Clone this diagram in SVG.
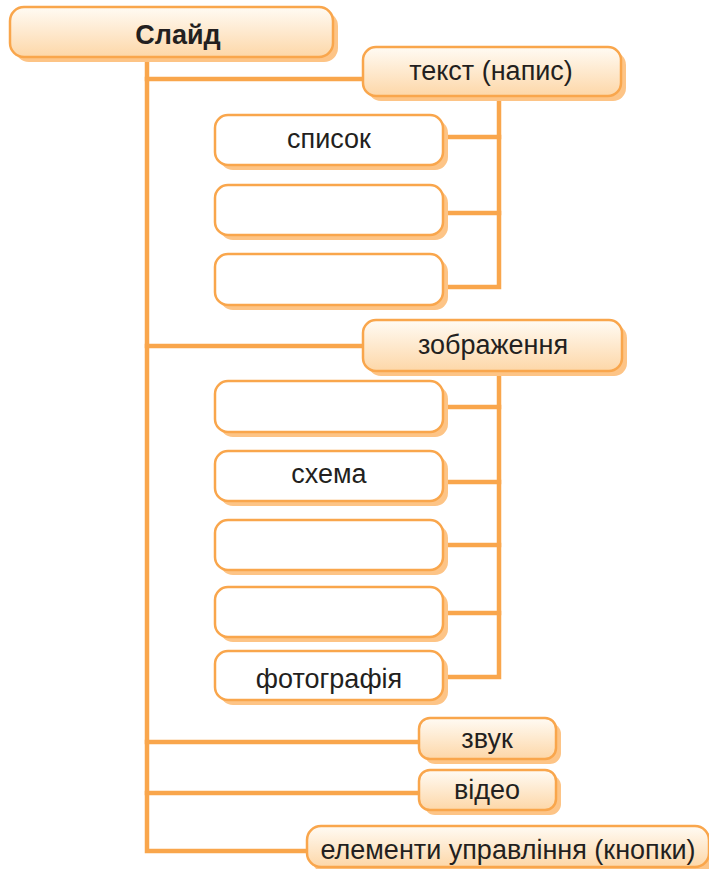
<svg xmlns="http://www.w3.org/2000/svg" width="709" height="869" viewBox="0 0 709 869">
<defs>
<linearGradient id="peach" x1="0" y1="0" x2="0" y2="1">
<stop offset="0" stop-color="#FFFBF4"/>
<stop offset="1" stop-color="#FDD7A8"/>
</linearGradient>
<style>
.sh{fill:#FDC486;stroke:none}
.pb{fill:url(#peach);stroke:#F9A64C;stroke-width:2.5}
.wb{fill:#FFFFFF;stroke:#F9A64C;stroke-width:2.5}
.ln{stroke:#F9A64C;stroke-width:4.5;fill:none;stroke-linecap:square}
text{font-family:"Liberation Sans",Arial,sans-serif;fill:#231F20;text-anchor:middle}
.t{font-size:27px}
.b{font-size:27px;font-weight:bold}
</style>
</defs>
<g id="connectors">
<path class="ln" d="M147,59 V851 H307"/>
<path class="ln" d="M147,79 H363"/>
<path class="ln" d="M147,346 H363"/>
<path class="ln" d="M147,742 H419"/>
<path class="ln" d="M147,793 H419"/>
<path class="ln" d="M499,98 V287 H448"/>
<path class="ln" d="M499,137 H448"/>
<path class="ln" d="M499,213 H448"/>
<path class="ln" d="M499,373 V677 H448"/>
<path class="ln" d="M499,407 H448"/>
<path class="ln" d="M499,482 H448"/>
<path class="ln" d="M499,545 H448"/>
<path class="ln" d="M499,613 H448"/>
</g>
<g id="slide">
<rect class="sh" x="15" y="12" width="323" height="50" rx="14"/>
<rect class="pb" x="10" y="7" width="323" height="50" rx="14"/>
<text class="b" x="178" y="44">Слайд</text>
</g>
<g id="text">
<rect class="sh" x="368" y="52" width="258" height="49" rx="13"/>
<rect class="pb" x="363" y="47" width="258" height="49" rx="13"/>
<text class="t" x="491" y="80">текст (напис)</text>
</g>
<g id="list">
<rect class="sh" x="220" y="120" width="228" height="50" rx="13"/>
<rect class="wb" x="215" y="115" width="228" height="50" rx="13"/>
<text class="t" x="329" y="148">список</text>
</g>
<g id="text2">
<rect class="sh" x="220" y="190" width="228" height="50" rx="13"/>
<rect class="wb" x="215" y="185" width="228" height="50" rx="13"/>
</g>
<g id="text3">
<rect class="sh" x="220" y="259" width="228" height="51" rx="13"/>
<rect class="wb" x="215" y="254" width="228" height="51" rx="13"/>
</g>
<g id="image">
<rect class="sh" x="368" y="325" width="259" height="51" rx="13"/>
<rect class="pb" x="363" y="320" width="259" height="51" rx="13"/>
<text class="t" x="493" y="354">зображення</text>
</g>
<g id="img1">
<rect class="sh" x="220" y="386" width="228" height="51" rx="13"/>
<rect class="wb" x="215" y="381" width="228" height="51" rx="13"/>
</g>
<g id="scheme">
<rect class="sh" x="220" y="456" width="228" height="50" rx="13"/>
<rect class="wb" x="215" y="451" width="228" height="50" rx="13"/>
<text class="t" x="329" y="483">схема</text>
</g>
<g id="img3">
<rect class="sh" x="220" y="525" width="228" height="50" rx="13"/>
<rect class="wb" x="215" y="520" width="228" height="50" rx="13"/>
</g>
<g id="img4">
<rect class="sh" x="220" y="592" width="228" height="50" rx="13"/>
<rect class="wb" x="215" y="587" width="228" height="50" rx="13"/>
</g>
<g id="photo">
<rect class="sh" x="220" y="656" width="228" height="49" rx="13"/>
<rect class="wb" x="215" y="651" width="228" height="49" rx="13"/>
<text class="t" x="329" y="688">фотографія</text>
</g>
<g id="sound">
<rect class="sh" x="424" y="723" width="137" height="41" rx="11"/>
<rect class="pb" x="419" y="718" width="137" height="41" rx="11"/>
<text class="t" x="487" y="748">звук</text>
</g>
<g id="video">
<rect class="sh" x="424" y="775" width="137" height="40" rx="11"/>
<rect class="pb" x="419" y="770" width="137" height="40" rx="11"/>
<text class="t" x="487" y="799">відео</text>
</g>
<g id="controls">
<rect class="sh" x="312" y="831" width="402" height="42" rx="14"/>
<rect class="pb" x="307" y="826" width="402" height="41" rx="14"/>
<text class="t" x="508" y="859">елементи управління (кнопки)</text>
</g>
</svg>
